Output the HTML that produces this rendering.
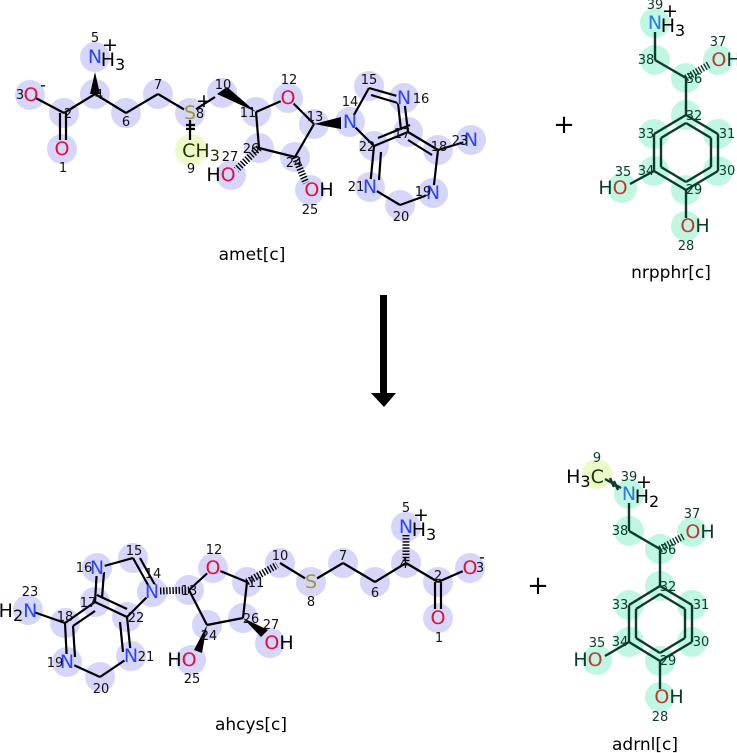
<!DOCTYPE html>
<html><head><meta charset="utf-8"><style>
html,body{margin:0;padding:0;background:#fff;}
svg{display:block;}
text{font-family:"DejaVu Sans","Liberation Sans",sans-serif;}
.n{font-size:13px;fill:#111;text-anchor:middle;}
.a{font-size:19px;text-anchor:middle;dominant-baseline:central;}
.b line,.b polyline{stroke:#000;stroke-width:2.2;fill:none;}
.g line{stroke:#0b3b2c;stroke-width:2.4;fill:none;}
.cb circle{fill:#d6d6fb;}
.cg circle{fill:#bff7e3;}
</style></head><body>
<svg width="737" height="753" viewBox="0 0 737 753" xmlns="http://www.w3.org/2000/svg">
<rect width="737" height="753" fill="#fff"/>
<!-- ============ AMET ============ -->
<g class="cb">
<circle cx="30" cy="95" r="15"/><circle cx="64" cy="113" r="15"/><circle cx="62" cy="149" r="15"/>
<circle cx="95" cy="94" r="15"/><circle cx="95" cy="57" r="15"/><circle cx="126" cy="113" r="15"/>
<circle cx="158" cy="94" r="15"/><circle cx="190" cy="113" r="15"/><circle cx="222" cy="93" r="15"/>
<circle cx="256" cy="112" r="15"/><circle cx="288" cy="98" r="15"/><circle cx="314" cy="124" r="15"/>
<circle cx="350" cy="122" r="15"/><circle cx="369" cy="86" r="15"/><circle cx="404" cy="98" r="15"/>
<circle cx="408" cy="132" r="15"/><circle cx="438" cy="150" r="15"/><circle cx="471" cy="140" r="15"/>
<circle cx="433" cy="193" r="15"/><circle cx="400" cy="205" r="15"/><circle cx="370" cy="187" r="15"/>
<circle cx="374" cy="146" r="15"/><circle cx="295" cy="157" r="15"/><circle cx="310" cy="190" r="15"/>
<circle cx="259" cy="148" r="15"/><circle cx="231" cy="175" r="15"/>
</g>
<circle cx="191" cy="150" r="16" fill="#eafbc8"/>
<g class="b">
<line x1="30" y1="95" x2="64" y2="113"/>
<line x1="60" y1="113" x2="60" y2="140"/><line x1="66" y1="113" x2="66" y2="140"/>
<line x1="64" y1="113" x2="95" y2="94"/>
<line x1="95" y1="94" x2="126" y2="113"/><line x1="126" y1="113" x2="158" y2="94"/>
<line x1="158" y1="94" x2="190" y2="113"/>
<line x1="190" y1="113" x2="190" y2="140"/>
<line x1="186" y1="125" x2="195" y2="125"/><line x1="186" y1="129" x2="195" y2="129"/>
<line x1="190" y1="113" x2="215" y2="97"/>
<line x1="256" y1="112" x2="288" y2="98"/><line x1="288" y1="98" x2="314" y2="124"/>
<line x1="314" y1="124" x2="295" y2="157"/><line x1="295" y1="157" x2="259" y2="148"/>
<line x1="259" y1="148" x2="256" y2="112"/>
<line x1="350" y1="122" x2="369" y2="88"/><line x1="369" y1="88" x2="404" y2="98"/>
<line x1="371" y1="95" x2="398" y2="103"/>
<line x1="404" y1="98" x2="408" y2="132"/><line x1="398" y1="103" x2="401" y2="130"/>
<line x1="408" y1="132" x2="374" y2="146"/><line x1="410" y1="125" x2="378" y2="138"/>
<line x1="350" y1="122" x2="374" y2="146"/>
<line x1="408" y1="132" x2="438" y2="150"/><line x1="408" y1="140" x2="432" y2="155"/>
<line x1="438" y1="150" x2="471" y2="140"/>
<line x1="438" y1="150" x2="433" y2="193"/>
<line x1="433" y1="193" x2="400" y2="205"/><line x1="400" y1="205" x2="370" y2="187"/>
<line x1="374" y1="146" x2="370" y2="187"/><line x1="381" y1="152" x2="379" y2="180"/>
</g>
<polygon points="95,72 90,94 100,94" fill="#000"/>
<polygon points="217,94 227,87 256,112" fill="#000"/>
<polygon points="314,124 341,117 341,129" fill="#000"/>
<line x1="259" y1="148" x2="236" y2="170" stroke="#000" stroke-width="7" stroke-dasharray="1.4 1.7"/>
<line x1="295" y1="157" x2="306" y2="183" stroke="#000" stroke-width="7" stroke-dasharray="1.4 1.7"/>
<g class="cb"><circle cx="30" cy="95" r="7"/><circle cx="62" cy="149" r="8"/><circle cx="95" cy="57" r="8"/><circle cx="190" cy="113" r="7"/><circle cx="288" cy="98" r="8"/><circle cx="350" cy="122" r="8"/><circle cx="404" cy="98" r="8"/><circle cx="471" cy="140" r="8"/><circle cx="433" cy="193" r="8"/><circle cx="370" cy="187" r="8"/><circle cx="231" cy="175" r="8"/><circle cx="310" cy="190" r="8"/></g>
<g class="a">
<text x="31" y="95" fill="#e0103c">O</text><text x="43" y="85" fill="#000" style="font-size:16px">-</text>
<text x="62" y="149" fill="#e0103c">O</text>
<text x="95" y="57" fill="#2a44ff">N</text><text x="113" y="60" fill="#000">H<tspan style="font-size:16px" dy="4">3</tspan></text><text x="110" y="45" fill="#000">+</text>
<text x="190" y="113" fill="#a09630">S</text><text x="204" y="101" fill="#000">+</text>
<text x="201" y="151" fill="#223300">CH<tspan style="font-size:16px" dy="4">3</tspan></text>
<text x="288" y="98" fill="#e0103c">O</text>
<text x="350" y="122" fill="#2a44ff">N</text><text x="404" y="98" fill="#2a44ff">N</text>
<text x="471" y="140" fill="#2a44ff">N</text><text x="433" y="193" fill="#2a44ff">N</text><text x="370" y="187" fill="#2a44ff">N</text>
<text x="221" y="175" fill="#000">H<tspan fill="#e0103c">O</tspan></text>
<text x="319" y="190" fill="#000"><tspan fill="#e0103c">O</tspan>H</text>
</g>
<g class="n">
<text x="20" y="99">3</text><text x="68" y="118">2</text><text x="63" y="172">1</text><text x="99" y="99">4</text><text x="95" y="42">5</text>
<text x="126" y="126">6</text><text x="158" y="89">7</text><text x="200" y="118">8</text><text x="191" y="173">9</text>
<text x="223" y="89">10</text><text x="248" y="117">11</text><text x="289" y="84">12</text><text x="315" y="121">13</text>
<text x="350" y="106">14</text><text x="369" y="84">15</text><text x="421" y="103">16</text><text x="402" y="138">17</text>
<text x="439" y="151">18</text><text x="460" y="145">23</text><text x="423" y="196">19</text><text x="401" y="221">20</text>
<text x="356" y="191">21</text><text x="367" y="151">22</text><text x="294" y="167">24</text><text x="310" y="214">25</text>
<text x="251" y="153">26</text><text x="230" y="161">27</text>
</g>
<text x="252" y="260" style="font-size:17px;text-anchor:middle" fill="#000">amet[c]</text>

<text x="564" y="133" style="font-size:26px;text-anchor:middle" fill="#000">+</text>
<text x="538" y="594" style="font-size:26px;text-anchor:middle" fill="#000">+</text>

<!-- ============ NRPPHR ============ -->
<g class="cg">
<circle cx="655" cy="23" r="15"/><circle cx="655" cy="60" r="15"/><circle cx="686" cy="78" r="15"/><circle cx="718" cy="60" r="15"/>
<circle cx="686" cy="115" r="15"/><circle cx="654" cy="134" r="15"/><circle cx="718" cy="134" r="15"/><circle cx="654" cy="171" r="15"/>
<circle cx="718" cy="171" r="15"/><circle cx="686" cy="190" r="15"/><circle cx="622" cy="188" r="15"/><circle cx="686" cy="226" r="15"/>
</g>
<g class="g">
<line x1="655" y1="32" x2="655" y2="60"/><line x1="655" y1="60" x2="686" y2="78"/><line x1="686" y1="78" x2="686" y2="115"/>
<line x1="686" y1="115" x2="654" y2="134"/><line x1="654" y1="134" x2="654" y2="171"/><line x1="654" y1="171" x2="686" y2="190"/>
<line x1="686" y1="190" x2="718" y2="171"/><line x1="718" y1="171" x2="718" y2="134"/><line x1="718" y1="134" x2="686" y2="115"/>
<line x1="686" y1="123" x2="661" y2="138"/><line x1="661" y1="138" x2="661" y2="167"/><line x1="661" y1="167" x2="686" y2="182"/>
<line x1="686" y1="182" x2="711" y2="167"/><line x1="711" y1="167" x2="711" y2="138"/><line x1="711" y1="138" x2="686" y2="123"/>
<line x1="654" y1="171" x2="630" y2="184"/><line x1="686" y1="190" x2="686" y2="218"/>
</g>
<line x1="686" y1="78" x2="710" y2="64" stroke="#0b3b2c" stroke-width="7" stroke-dasharray="1.4 1.7"/>
<g class="a">
<text x="655" y="23" fill="#2a7ae0">N</text><text x="673" y="26" fill="#000">H<tspan style="font-size:16px" dy="4">3</tspan></text><text x="670" y="11" fill="#000">+</text>
<text x="726" y="60" fill="#0b3b2c"><tspan fill="#c0392b">O</tspan>H</text>
<text x="613" y="188" fill="#0b3b2c">H<tspan fill="#c0392b">O</tspan></text>
<text x="695" y="226" fill="#0b3b2c"><tspan fill="#c0392b">O</tspan>H</text>
</g>
<g class="n" style="fill:#0b3b2c">
<text x="655" y="9">39</text><text x="646" y="64">38</text><text x="694" y="83">36</text><text x="718" y="46">37</text>
<text x="694" y="120">32</text><text x="646" y="138">33</text><text x="727" y="138">31</text><text x="646" y="175">34</text>
<text x="727" y="175">30</text><text x="694" y="194">29</text><text x="623" y="176">35</text><text x="686" y="250">28</text>
</g>
<text x="671" y="278" style="font-size:17px;text-anchor:middle" fill="#000">nrpphr[c]</text>

<!-- ============ ARROW ============ -->
<rect x="380" y="295" width="7" height="100" fill="#000"/>
<polygon points="371,393 396,393 384,407" fill="#000"/>

<!-- ============ AHCYS ============ -->
<g class="cb">
<circle cx="28" cy="610" r="15"/><circle cx="65" cy="623" r="15"/><circle cx="67" cy="662" r="15"/><circle cx="100" cy="677" r="15"/>
<circle cx="131" cy="656" r="15"/><circle cx="127" cy="617" r="15"/><circle cx="95" cy="602" r="15"/><circle cx="97" cy="568" r="15"/>
<circle cx="133" cy="558" r="15"/><circle cx="152" cy="592" r="15"/><circle cx="189" cy="590" r="15"/><circle cx="213" cy="568" r="15"/>
<circle cx="247" cy="582" r="15"/><circle cx="280" cy="563" r="15"/><circle cx="311" cy="582" r="15"/><circle cx="343" cy="563" r="15"/>
<circle cx="375" cy="582" r="15"/><circle cx="406" cy="563" r="15"/><circle cx="406" cy="527" r="15"/><circle cx="438" cy="582" r="15"/>
<circle cx="470" cy="568" r="15"/><circle cx="438" cy="618" r="15"/><circle cx="207" cy="625" r="15"/><circle cx="191" cy="660" r="15"/>
<circle cx="243" cy="618" r="15"/><circle cx="270" cy="643" r="15"/>
</g>
<g class="b">
<line x1="28" y1="610" x2="65" y2="623"/>
<line x1="65" y1="623" x2="67" y2="662"/><line x1="67" y1="662" x2="100" y2="677"/><line x1="100" y1="677" x2="131" y2="656"/>
<line x1="131" y1="656" x2="127" y2="617"/><line x1="123" y1="652" x2="120" y2="622"/>
<line x1="127" y1="617" x2="95" y2="602"/><line x1="95" y1="602" x2="65" y2="623"/>
<line x1="95" y1="611" x2="73" y2="626"/><line x1="73" y1="626" x2="75" y2="657"/>
<line x1="95" y1="602" x2="97" y2="568"/><line x1="102" y1="598" x2="104" y2="572"/>
<line x1="97" y1="568" x2="133" y2="558"/><line x1="133" y1="558" x2="152" y2="592"/><line x1="140" y1="558" x2="155" y2="585"/>
<line x1="152" y1="592" x2="127" y2="617"/><line x1="127" y1="609" x2="97" y2="595"/>
<line x1="189" y1="590" x2="213" y2="568"/><line x1="213" y1="568" x2="247" y2="582"/>
<line x1="247" y1="582" x2="243" y2="618"/><line x1="243" y1="618" x2="207" y2="625"/><line x1="207" y1="625" x2="189" y2="590"/>
<line x1="280" y1="563" x2="311" y2="582"/><line x1="311" y1="582" x2="343" y2="563"/><line x1="343" y1="563" x2="375" y2="582"/>
<line x1="375" y1="582" x2="406" y2="563"/><line x1="406" y1="563" x2="438" y2="582"/><line x1="438" y1="582" x2="470" y2="568"/>
<line x1="435" y1="582" x2="435" y2="609"/><line x1="441" y1="582" x2="441" y2="609"/>
</g>
<line x1="247" y1="582" x2="277" y2="565" stroke="#000" stroke-width="7" stroke-dasharray="1.4 1.7"/>
<line x1="160" y1="591" x2="189" y2="590" stroke="#000" stroke-width="7" stroke-dasharray="1.4 1.7"/>
<line x1="406" y1="535" x2="406" y2="562" stroke="#000" stroke-width="7" stroke-dasharray="1.4 1.7"/>
<polygon points="207,625 194,650 202,653" fill="#000"/>
<polygon points="243,618 261,637 268,630" fill="#000"/>
<g class="cb"><circle cx="28" cy="610" r="7"/><circle cx="67" cy="662" r="8"/><circle cx="131" cy="656" r="8"/><circle cx="97" cy="568" r="8"/><circle cx="152" cy="592" r="8"/><circle cx="213" cy="568" r="8"/><circle cx="311" cy="582" r="7"/><circle cx="406" cy="527" r="8"/><circle cx="470" cy="568" r="8"/><circle cx="438" cy="618" r="8"/><circle cx="191" cy="660" r="8"/><circle cx="270" cy="643" r="8"/></g>
<g class="a">
<text x="18" y="611" fill="#000">H<tspan style="font-size:16px" dy="4">2</tspan><tspan fill="#2a44ff" dy="-4">N</tspan></text>
<text x="67" y="662" fill="#2a44ff">N</text><text x="131" y="656" fill="#2a44ff">N</text><text x="97" y="568" fill="#2a44ff">N</text><text x="152" y="592" fill="#2a44ff">N</text>
<text x="213" y="568" fill="#e0103c">O</text><text x="311" y="582" fill="#a09630">S</text>
<text x="406" y="527" fill="#2a44ff">N</text><text x="424" y="530" fill="#000">H<tspan style="font-size:16px" dy="4">3</tspan></text><text x="421" y="515" fill="#000">+</text>
<text x="470" y="568" fill="#e0103c">O</text><text x="482" y="557" fill="#000" style="font-size:16px">-</text>
<text x="438" y="618" fill="#e0103c">O</text>
<text x="182" y="660" fill="#000">H<tspan fill="#e0103c">O</tspan></text>
<text x="279" y="643" fill="#000"><tspan fill="#e0103c">O</tspan>H</text>
</g>
<g class="n">
<text x="30" y="596">23</text><text x="65" y="621">18</text><text x="55" y="667">19</text><text x="101" y="693">20</text><text x="146" y="661">21</text>
<text x="136" y="622">22</text><text x="88" y="607">17</text><text x="84" y="572">16</text><text x="134" y="555">15</text><text x="153" y="578">14</text>
<text x="189" y="595">13</text><text x="214" y="554">12</text><text x="256" y="587">11</text><text x="280" y="560">10</text><text x="311" y="606">8</text>
<text x="343" y="560">7</text><text x="375" y="597">6</text><text x="404" y="568">4</text><text x="406" y="512">5</text><text x="438" y="580">2</text>
<text x="480" y="572">3</text><text x="439" y="642">1</text><text x="209" y="640">24</text><text x="192" y="683">25</text>
<text x="251" y="623">26</text><text x="271" y="629">27</text>
</g>
<text x="251" y="730" style="font-size:17px;text-anchor:middle" fill="#000">ahcys[c]</text>

<!-- ============ ADRNL ============ -->
<circle cx="597" cy="474" r="15" fill="#eafbc8"/>
<g class="cg">
<circle cx="629" cy="494" r="15"/><circle cx="629" cy="531" r="15"/><circle cx="660" cy="549" r="15"/><circle cx="692" cy="532" r="15"/>
<circle cx="660" cy="586" r="15"/><circle cx="629" cy="605" r="15"/><circle cx="692" cy="605" r="15"/><circle cx="629" cy="642" r="15"/>
<circle cx="692" cy="642" r="15"/><circle cx="660" cy="661" r="15"/><circle cx="597" cy="660" r="15"/><circle cx="660" cy="697" r="15"/>
</g>
<g class="g">
<line x1="605" y1="479" x2="621" y2="488"/>
<line x1="610" y1="478" x2="614" y2="487" /><line x1="614" y1="481" x2="618" y2="490"/>
<line x1="629" y1="503" x2="629" y2="531"/><line x1="629" y1="531" x2="660" y2="549"/><line x1="660" y1="549" x2="660" y2="586"/>
<line x1="660" y1="586" x2="629" y2="605"/><line x1="629" y1="605" x2="629" y2="642"/><line x1="629" y1="642" x2="660" y2="661"/>
<line x1="660" y1="661" x2="692" y2="642"/><line x1="692" y1="642" x2="692" y2="605"/><line x1="692" y1="605" x2="660" y2="586"/>
<line x1="660" y1="594" x2="636" y2="609"/><line x1="636" y1="609" x2="636" y2="638"/><line x1="636" y1="638" x2="660" y2="653"/>
<line x1="660" y1="653" x2="685" y2="638"/><line x1="685" y1="638" x2="685" y2="609"/><line x1="685" y1="609" x2="660" y2="594"/>
<line x1="629" y1="642" x2="605" y2="656"/><line x1="660" y1="661" x2="660" y2="689"/>
</g>
<line x1="660" y1="549" x2="684" y2="536" stroke="#0b3b2c" stroke-width="7" stroke-dasharray="1.4 1.7"/>
<g class="a">
<text x="585" y="477" fill="#000">H<tspan style="font-size:16px" dy="4">3</tspan><tspan fill="#223300" dy="-4">C</tspan></text>
<text x="629" y="494" fill="#2a7ae0">N</text><text x="647" y="497" fill="#000">H<tspan style="font-size:16px" dy="4">2</tspan></text><text x="644" y="482" fill="#000">+</text>
<text x="700" y="532" fill="#0b3b2c"><tspan fill="#c0392b">O</tspan>H</text>
<text x="588" y="660" fill="#0b3b2c">H<tspan fill="#c0392b">O</tspan></text>
<text x="669" y="697" fill="#0b3b2c"><tspan fill="#c0392b">O</tspan>H</text>
</g>
<g class="n" style="fill:#0b3b2c">
<text x="597" y="462">9</text><text x="629" y="481">39</text><text x="620" y="535">38</text><text x="668" y="554">36</text><text x="692" y="518">37</text>
<text x="668" y="591">32</text><text x="620" y="609">33</text><text x="701" y="609">31</text><text x="620" y="646">34</text>
<text x="701" y="646">30</text><text x="668" y="665">29</text><text x="597" y="647">35</text><text x="660" y="721">28</text>
</g>
<text x="645" y="750" style="font-size:17px;text-anchor:middle" fill="#000">adrnl[c]</text>
</svg>
</body></html>
